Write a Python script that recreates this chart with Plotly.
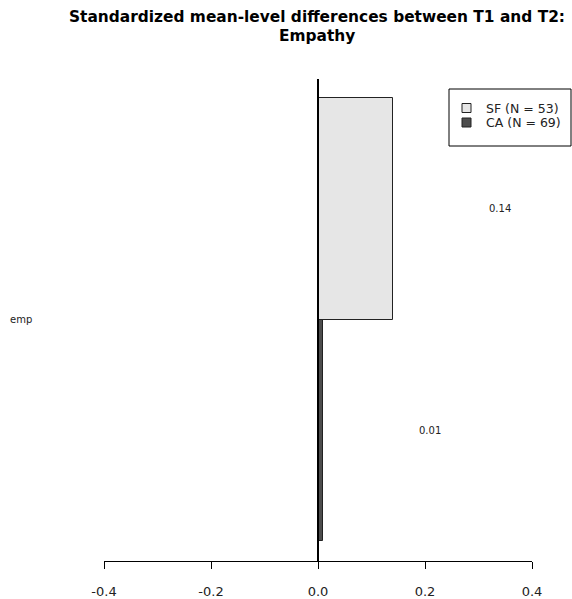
import plotly.graph_objects as go

groups = ["SF (N = 53)", "CA (N = 69)"]
values = [0.14, 0.01]
colors = ["#E6E6E6", "#4D4D4D"]
ypos = [1, 0]
category = "emp"
tickvals = [-0.4, -0.2, 0.0, 0.2, 0.4]
ticktext = ["-0.4", "-0.2", "0.0", "0.2", "0.4"]
label_offset = 0.2
title_lines = ["Standardized mean-level differences between T1 and T2:", "Empathy"]

W, H = 572, 599
L, R, T, B = 104, 40, 79, 38
pw, ph = W - L - R, H - T - B
FONT = "DejaVu Sans, Liberation Sans, Arial, sans-serif"

def px_x(x):
    return (x - L) / pw

def px_y(y):
    return (H - B - y) / ph

fig = go.Figure()
for g, v, c, yp in zip(groups, values, colors, ypos):
    fig.add_trace(go.Bar(
        x=[v], y=[yp], orientation="h", width=1.0,
        marker=dict(color=c, line=dict(color="#222222", width=1)),
        name=g, showlegend=False, hoverinfo="skip",
    ))
    fig.add_annotation(x=v + label_offset, y=yp, xref="x", yref="y",
                       text=f"{v:.2f}", showarrow=False,
                       font=dict(size=10, color="#222222"))

# zero line
fig.add_shape(type="line", x0=0, x1=0, xref="x", y0=0, y1=1, yref="paper",
              line=dict(color="black", width=2))

# category label
fig.add_annotation(x=px_x(8), y=0.5, xref="paper", yref="y", text=category,
                   showarrow=False, xanchor="left", font=dict(size=10, color="#222222"))

# title
for i, line in enumerate(title_lines):
    fig.add_annotation(x=px_x(317), y=px_y(17 + 19 * i), xref="paper", yref="paper",
                       text=f"<b>{line}</b>", showarrow=False, xanchor="center",
                       yanchor="middle", font=dict(size=15.4, color="black"))

# manual legend
fig.add_shape(type="rect", xref="paper", yref="paper",
              x0=px_x(449), x1=px_x(571), y0=px_y(146), y1=px_y(89),
              line=dict(color="black", width=1), fillcolor="white")
for i, (g, c) in enumerate(zip(groups, colors)):
    yc = 108 + i * 14.5
    fig.add_shape(type="rect", xref="paper", yref="paper",
                  x0=px_x(462), x1=px_x(471), y0=px_y(yc + 4.5), y1=px_y(yc - 4.5),
                  line=dict(color="#222222", width=1), fillcolor=c)
    fig.add_annotation(x=px_x(484), y=px_y(yc), xref="paper", yref="paper",
                       text=g, showarrow=False, xanchor="left", yanchor="middle",
                       font=dict(size=12.5, color="#222222"))

fig.update_layout(
    width=W, height=H,
    margin=dict(l=L, r=R, t=T, b=B, pad=0, autoexpand=False),
    plot_bgcolor="white", paper_bgcolor="white",
    font=dict(family=FONT, color="#222222"),
    barmode="overlay",
    bargap=0,
    xaxis=dict(range=[-0.4, 0.4], tickvals=tickvals, ticktext=ticktext,
               showgrid=False, zeroline=False, showline=True, linecolor="black",
               linewidth=1, ticks="outside", ticklen=7, tickcolor="black",
               ticklabelstandoff=11, automargin=False,
               tickfont=dict(size=13, color="#222222")),
    yaxis=dict(range=[-0.590, 1.586], showticklabels=False, showgrid=False,
               zeroline=False, showline=False, ticks="", automargin=False),
)

fig.write_html("out.html")
